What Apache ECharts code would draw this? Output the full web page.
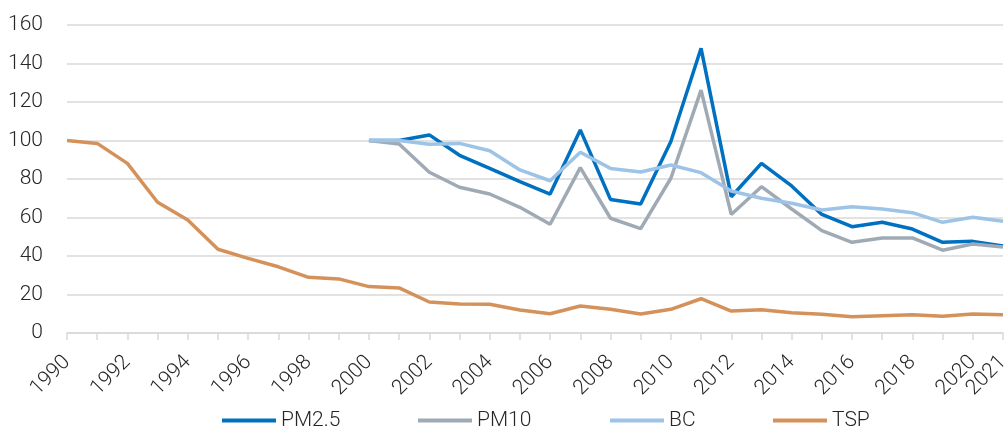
<!DOCTYPE html>
<html>
<head>
<meta charset="utf-8">
<script src="https://cdn.jsdelivr.net/npm/echarts@6/dist/echarts.min.js"></script>
<style>html,body{margin:0;padding:0;background:#fff}#c{width:1005px;height:427px}</style>
</head>
<body>
<div id="c"></div>
<script>
const years = [];
for (let y = 1990; y <= 2021; y++) years.push(String(y));
const pm25 = [null,null,null,null,null,null,null,null,null,null,
  100,100,102.9,92.3,85.5,78.6,72.2,105.5,69.4,67.0,99.5,147.9,70.8,88.1,76.4,61.6,55.2,57.5,54.0,47.1,47.6,45.2];
const pm10 = [null,null,null,null,null,null,null,null,null,null,
  100,98.2,83.5,75.7,72.2,65.3,56.5,85.9,59.6,54.2,80.4,126.2,61.6,76.0,64.4,53.2,47.1,49.4,49.4,43.0,46.2,44.7];
const bc = [null,null,null,null,null,null,null,null,null,null,
  100,100,98.0,98.5,94.7,84.7,79.1,93.9,85.5,83.6,87.3,83.3,73.8,70.0,67.4,63.9,65.6,64.4,62.5,57.5,60.1,58.0];
const tsp = [100,98.5,88.1,67.9,58.7,43.5,38.8,34.4,28.9,28.1,
  24.1,23.4,16.1,15.1,14.9,11.9,10.0,14.0,12.3,9.9,12.3,17.8,11.4,12.1,10.5,9.7,8.5,9.0,9.5,8.7,9.9,9.5];
const seriesNames = ['PM2.5','PM10','BC','TSP'];
const colors = ['#0070C0','#A0AAB5','#9DC3E6','#D4915A'];

const FONT = 'Roboto';
const FS = 21;
const legendLefts = [217, 413, 605, 768];
const chart = echarts.init(document.getElementById('c'));
const mk = (name, data, color) => ({
  name, type: 'line', data, symbol: 'none', smooth: false, xAxisIndex: 0, yAxisIndex: 0,
  lineStyle: { width: 3.5, color }, itemStyle: { color }
});
chart.setOption({
  animation: false,
  textStyle: { fontFamily: FONT },
  grid: [
    { left: 67, right: 2, top: 25, bottom: 94, containLabel: false, outerBoundsMode: 'none' },
    { left: 67, right: 2, top: 25, bottom: 76, containLabel: false, outerBoundsMode: 'none' }
  ],
  legend: seriesNames.map((n, i) => ({
    left: legendLefts[i], top: 405,
    itemWidth: 54, itemHeight: 4, itemGap: 0,
    icon: 'rect',
    textStyle: { fontFamily: FONT, fontSize: FS, fontWeight: 300, color: '#262626' },
    data: [n]
  })),
  xAxis: [{
    gridIndex: 0, type: 'category', data: years, boundaryGap: false, position: 'bottom',
    axisLine: { lineStyle: { color: '#D9D9D9', width: 1.5 } },
    axisTick: { show: true, interval: 0, length: 7, lineStyle: { color: '#D9D9D9', width: 1.5 } },
    axisLabel: { show: false }
  }, {
    gridIndex: 1, type: 'category', data: years, boundaryGap: false, position: 'bottom',
    axisLine: { show: false }, axisTick: { show: false }, splitLine: { show: false },
    axisLabel: {
      rotate: 45, fontSize: FS, fontWeight: 300, color: '#262626', fontFamily: FONT, margin: 8,
      hideOverlap: false, showMaxLabel: true,
      interval: (i) => i % 2 === 0 || i === years.length - 1
    }
  }],
  yAxis: [{
    gridIndex: 0, type: 'value', min: 0, max: 160, interval: 20,
    axisLine: { show: false }, axisTick: { show: false },
    axisLabel: { fontSize: FS, fontWeight: 300, color: '#262626', fontFamily: FONT, margin: 24 },
    splitLine: { lineStyle: { color: '#D9D9D9', width: 1.5 } }
  }, {
    gridIndex: 1, type: 'value', min: 0, max: 160, interval: 20, show: false,
    splitLine: { show: false }
  }],
  series: [
    mk(seriesNames[0], pm25, colors[0]),
    mk(seriesNames[1], pm10, colors[1]),
    mk(seriesNames[2], bc, colors[2]),
    mk(seriesNames[3], tsp, colors[3])
  ]
});
</script>
</body>
</html>
